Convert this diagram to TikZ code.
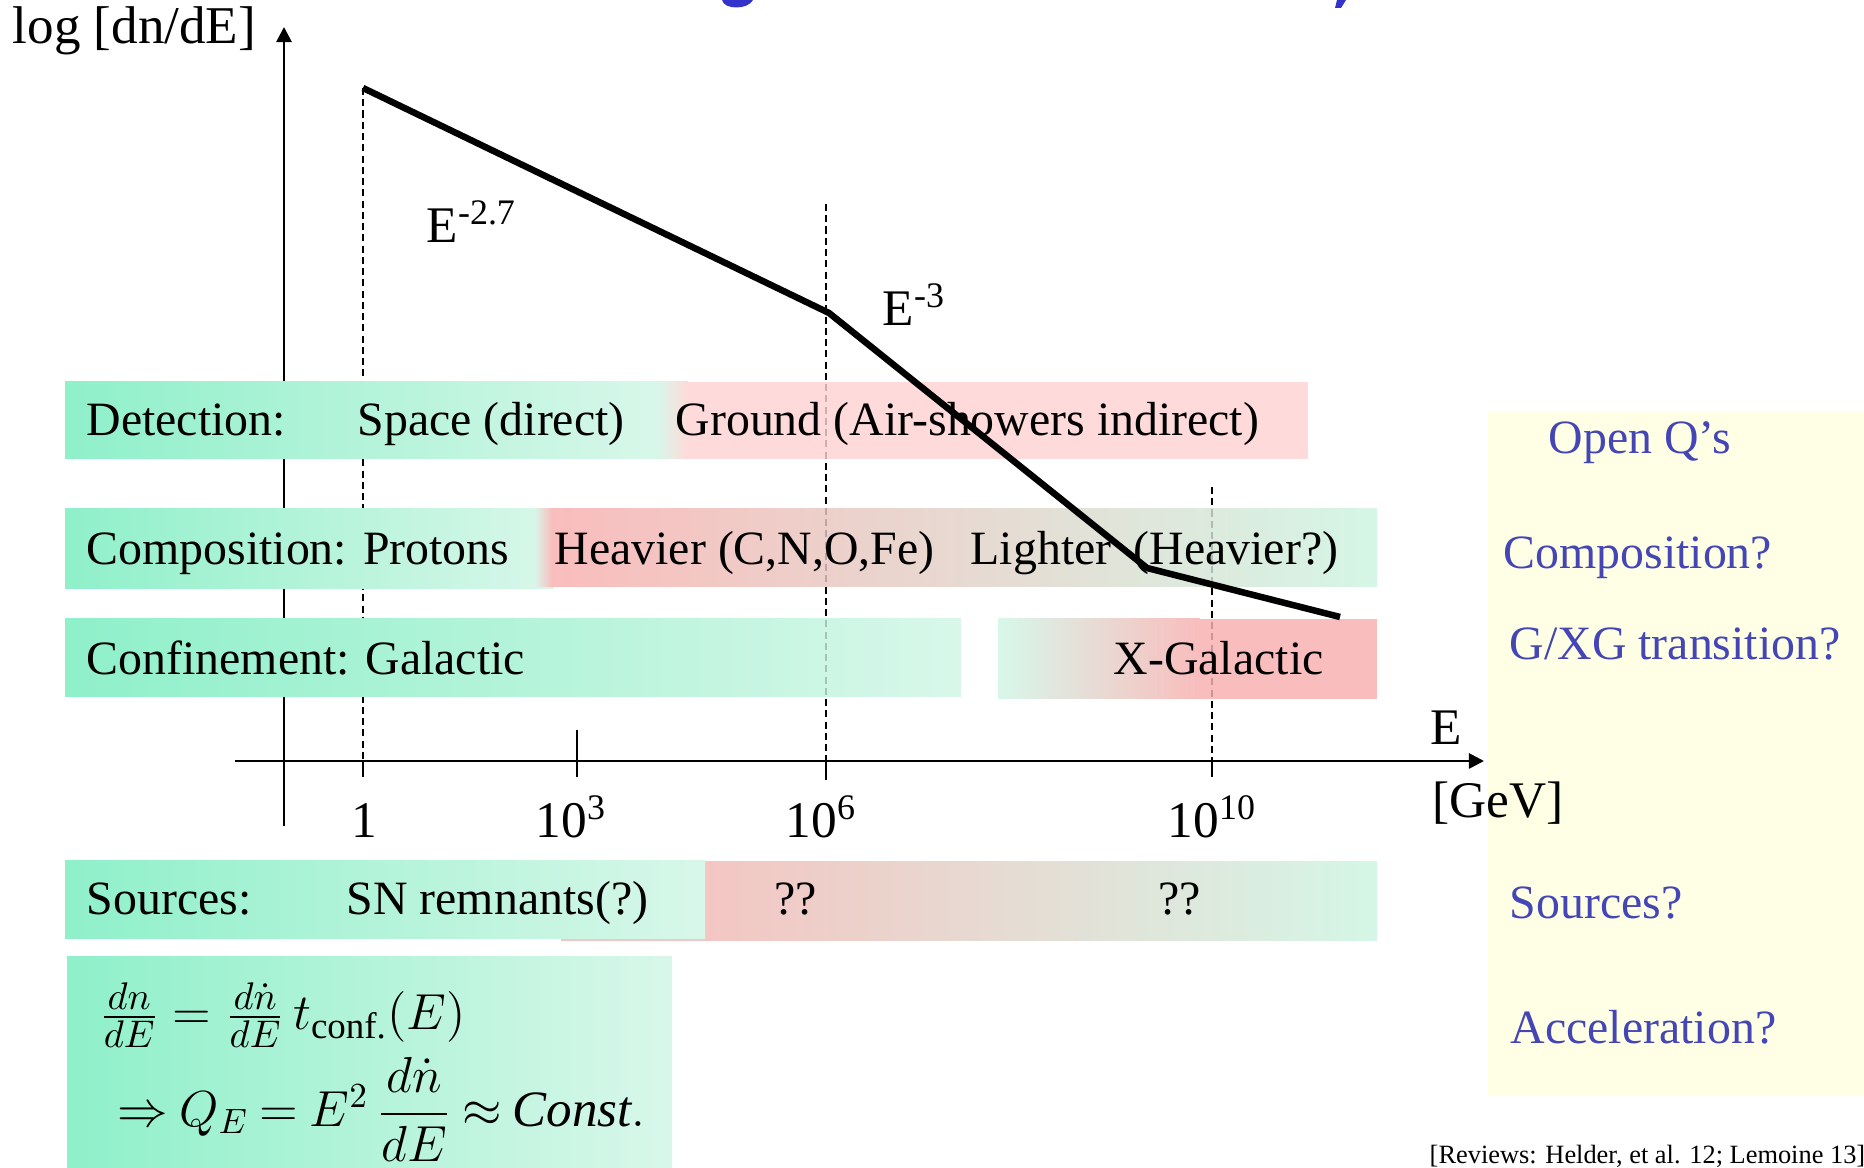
\documentclass[tikz,border=0pt]{standalone}
\usepackage{amsmath}
\usepackage{fontspec}
\setmainfont{Liberation Serif}
\usetikzlibrary{arrows.meta}
\newcommand\myfs[1]{\fontsize{#1}{#1}\selectfont}
\definecolor{mintD}{RGB}{143,240,202}
\definecolor{mintL}{RGB}{216,247,234}
\definecolor{mintR}{RGB}{213,246,230}
\definecolor{pinkL}{RGB}{255,218,218}
\definecolor{pinkS}{RGB}{249,189,189}
\definecolor{pinkM}{RGB}{243,198,195}
\definecolor{greyM}{RGB}{226,222,213}
\definecolor{yelL}{RGB}{255,255,230}
\definecolor{qblue}{RGB}{68,70,182}
\definecolor{tblue}{RGB}{51,51,204}
\tikzset{
  lbl/.style={font=\myfs{13.6}, anchor=base west, inner sep=0pt},
  axlbl/.style={font=\myfs{14.6}, anchor=base west, inner sep=0pt},
  qtext/.style={font=\myfs{13.6}, text=qblue, anchor=base west, inner sep=0pt},
  axisline/.style={line width=0.75pt},
  guide/.style={line width=0.55pt, dash pattern=on 2pt off 1.2pt},
  spectrum/.style={line width=1.85pt, line join=miter},
}
\begin{document}
\begin{tikzpicture}[x=0.01cm,y=-0.01cm]
\useasboundingbox (0,0) rectangle (1864,1168);

% fragments of the cut-off title
\fill[tblue] (722,0) .. controls (724,10) and (748,10) .. (753,0) -- cycle;
\fill[tblue] (1337,0) -- (1346,0) -- (1341,8) -- (1335,8) -- cycle;

% axes
\coordinate (yb) at (284,826);
\coordinate (yt) at (284,27);
\coordinate (xl) at (235,761);
\coordinate (xr) at (1484,761);
\draw[axisline,-{Triangle[length=4.3pt,width=4.3pt]}] (yb) -- (yt);
\draw[axisline,-{Triangle[length=4.3pt,width=4.3pt]}] (xl) -- (xr);

% ticks
\draw[axisline] (363,761) -- (363,777);
\draw[axisline] (577,730) -- (577,777);
\draw[axisline] (826,761) -- (826,780);
\draw[axisline] (1212,761) -- (1212,777);

% dashed guides
\coordinate (g1t) at (363,88);   \coordinate (g1b) at (363,761);
\coordinate (g2t) at (826,204);  \coordinate (g2b) at (826,761);
\coordinate (g3t) at (1212,487); \coordinate (g3b) at (1212,761);
\draw[guide] (g1t) -- (g1b);
\draw[guide] (g2t) -- (g2b);
\draw[guide] (g3t) -- (g3b);

% Detection row
\shade[left color=mintD, right color=mintL] (65,382) rectangle (660,459);
\shade[left color=mintL, right color=pinkL] (658,382) rectangle (688,459);
\fill[pinkL] (687,382) rectangle (1308,459);

% Composition row
\shade[left color=mintD, right color=mintL] (65,509) rectangle (554,589);
\shade[left color=mintL, right color=pinkS] (534,509) rectangle (552,587);
\shade[left color=pinkS, middle color=greyM, right color=mintR] (551,509) rectangle (1377,587);

% Confinement row
\shade[left color=mintD, right color=mintL] (65,619) rectangle (961,697);
\shade[left color=mintL, right color=pinkS] (998,619) rectangle (1200,699);
\fill[pinkS] (1199,619) rectangle (1377,699);

% Sources row
\fill[pinkM] (561,862) rectangle (706,941);
\shade[left color=pinkM, middle color=greyM, right color=mintR] (705,862) rectangle (1377,941);
\shade[left color=mintD, right color=mintL] (65,861) rectangle (705,939);

% faint guides seen through the bars
\draw[guide, opacity=0.2] (g2t) -- (g2b);
\draw[guide, opacity=0.2] (g3t) -- (g3b);

% formula box
\shade[left color=mintD, right color=mintL] (67,957) rectangle (672,1168);
\node[anchor=west, inner sep=0pt, font=\myfs{15}] (f1) at (99,1015)
  {$\frac{dn}{dE}=\frac{d\dot n}{dE}\,t_{\text{conf.}}(E)$};
\node[anchor=west, inner sep=0pt, font=\myfs{14.5}] (f2) at (117,1109)
  {$\thickmuskip=4mu plus 2mu\Rightarrow Q_E = E^2\,\dfrac{d\dot n}{dE}\approx \mathit{Const.}$};

% open questions box
\fill[yelL] (1488,412) rectangle (1864,1096);

% labels
\node[font=\myfs{15.1}, anchor=base west, inner sep=0pt] (ylab) at (12,44) {log [dn/dE]};
\node[axlbl] (e27) at (426,243) {E\textsuperscript{-2.7}};
\node[axlbl] (e3) at (882,326) {E\textsuperscript{-3}};

\node[lbl] (det) at (86,436) {Detection:};
\node[lbl] (space) at (357,436) {Space (direct)};
\node[lbl] (ground) at (675,436) {Ground (Air-showers indirect)};

\node[lbl] (comp) at (86,565) {Composition: Protons};
\node[lbl] (heavy) at (554,565) {Heavier (C,N,O,Fe)};
\node[lbl] (light) at (970,565) {Lighter};
\node[lbl] (heavyq) at (1133,565) {(Heavier?)};

\node[lbl] (conf) at (86,675) {Confinement: Galactic};
\node[lbl] (xgal) at (1113,675) {X-Galactic};

\node[lbl] (src) at (86,915) {Sources:};
\node[lbl] (snr) at (346,915) {SN remnants(?)};
\node[lbl] (qq1) at (774,915) {??};
\node[lbl] (qq2) at (1158,915) {??};

\node[axlbl] (t1) at (351,838) {1};
\node[axlbl] (t3) at (535,838) {10\textsuperscript{3}};
\node[axlbl] (t6) at (785,838) {10\textsuperscript{6}};
\node[axlbl] (t10) at (1167,838) {10\textsuperscript{10}};
\node[axlbl] (elab) at (1430,745) {E};
\node[axlbl] (gev) at (1432,818) {[GeV]};

\node[qtext] (q0) at (1548,454) {Open Q’s};
\node[qtext] (q1) at (1503,569) {Composition?};
\node[qtext] (q2) at (1509,660) {G/XG transition?};
\node[qtext] (q3) at (1509,919) {Sources?};
\node[qtext] (q4) at (1510,1044) {Acceleration?};

\node[font=\myfs{7.5}, anchor=base west, inner sep=0pt] (ref) at (1429,1163)
  {[Reviews: Helder, et al. 12; Lemoine 13]};

% spectrum
\coordinate (s1) at (363,88);
\coordinate (s2) at (829,313);
\coordinate (s3) at (1147,568);
\coordinate (s4) at (1340,617);
\draw[spectrum] (s1) -- (s2) -- (s3) -- (s4);
\end{tikzpicture}
\end{document}
